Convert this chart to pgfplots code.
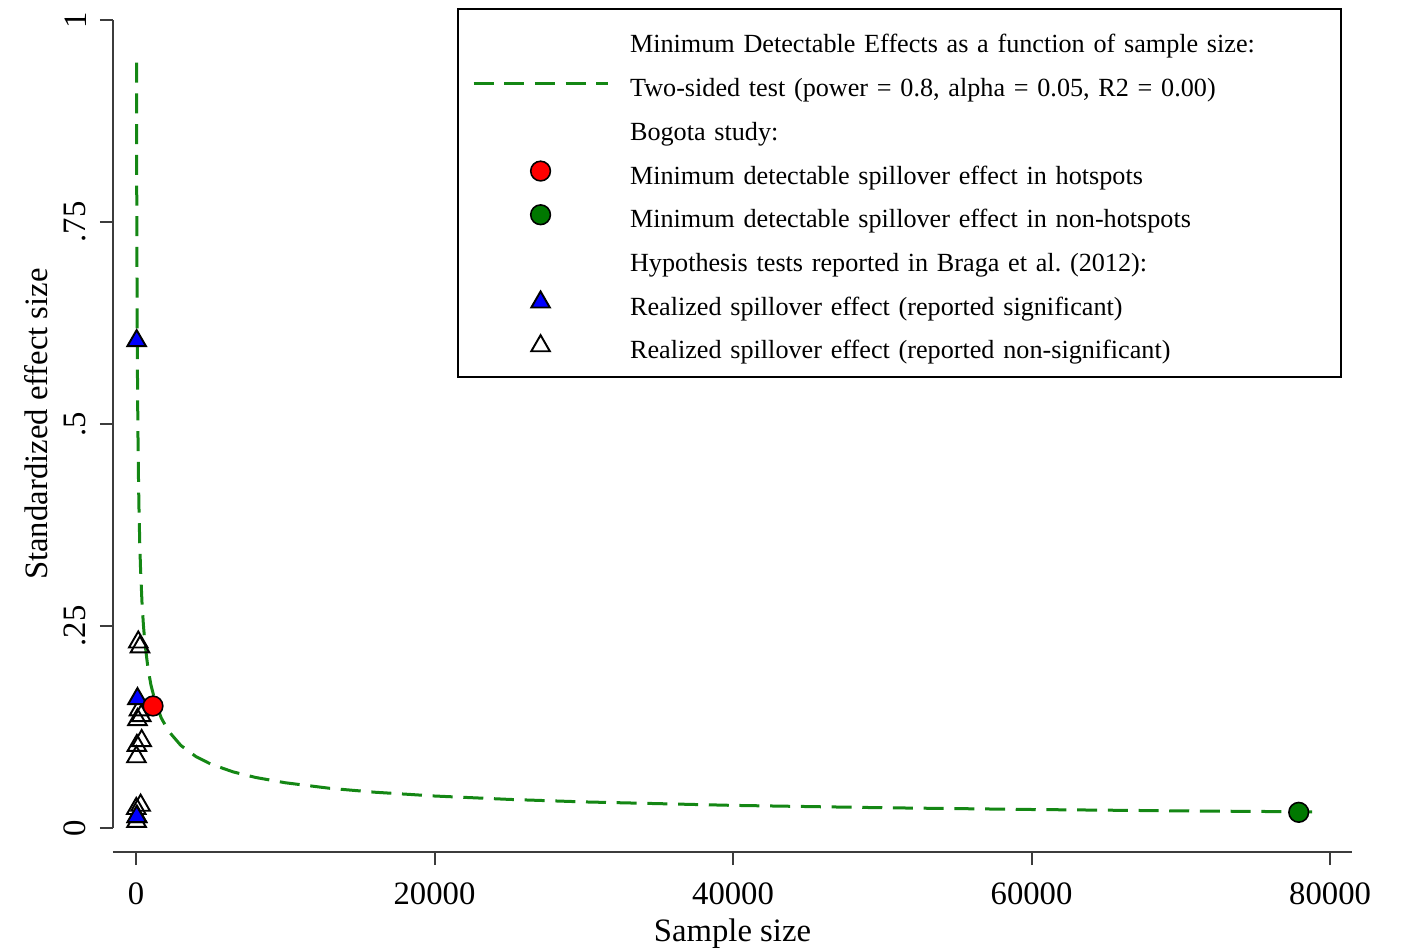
\documentclass[border=0pt]{standalone}
\usepackage{fontspec}
\setmainfont{Liberation Serif}
\usepackage{pgfplots}
\pgfplotsset{compat=1.18}
\definecolor{sgreen}{RGB}{20,135,20}
\definecolor{dgreen}{RGB}{0,120,0}
\definecolor{axgray}{RGB}{60,60,60}
\pgfplotsset{
  lineleg/.style={legend image code/.code={\draw[##1] (0cm,0cm) -- (1.34cm,0cm);}},
  markleg/.style={legend image code/.code={\draw[##1] plot coordinates {(0.67cm,0cm)};}},
}
\frenchspacing

\begin{document}
\begin{tikzpicture}
\path[use as bounding box] (-1.13cm,-1.19cm) rectangle (12.88cm,8.28cm);
\begin{axis}[
  at={(0,0)}, anchor=south west,
  scale only axis, width=12.39cm, height=8.08cm,
  xmin=-1540, xmax=81470, ymin=0, ymax=1,
  axis x line*=bottom, axis y line*=left,
  axis x line shift=2.4mm,
  clip=false,
  scaled x ticks=false, scaled y ticks=false,
  xtick={0,20000,40000,60000,80000},
  xticklabels={0,20000,40000,60000,80000},
  ytick={0,0.25,0.5,0.75,1},
  yticklabels={0,.25,.5,.75,1},
  tick align=outside,
  major tick length=1.3mm,
  tick style={line width=0.2mm, color=axgray},
  axis line style={line width=0.2mm, color=axgray},
  tick label style={font=\fontsize{9.3}{11}\selectfont},
  /pgf/number format/assume math mode=true,
  xticklabel style={yshift=-0.5mm},
  yticklabel style={rotate=90, anchor=south, inner ysep=1.3mm},
  label style={font=\fontsize{9.3}{11}\selectfont},
  xlabel={Sample size},
  ylabel={Standardized effect size},
  xlabel style={at={(axis description cs:0.5,-0.141)}, anchor=base},
  ylabel style={at={(axis description cs:-0.0525,0.5)}, anchor=base},
  legend cell align=left,
  legend style={
    at={(0.2777,1.0149)}, anchor=north west,
    draw=black, line width=0.2mm, fill=white,
    inner xsep=1.4mm, inner ysep=1.8mm,
    column sep=2.1mm, row sep=1.77mm,
    font=\fontsize{7.45}{9}\selectfont,
    nodes={inner sep=0pt, text width=6.97cm, align=left, text height=2.6mm, text depth=0mm, anchor=west},
    cells={anchor=west},
  },
]
\addlegendimage{empty legend}
\addlegendentry{Minimum Detectable Effects as a function of sample size:}
\addlegendimage{lineleg, sgreen, line width=0.3mm, dash pattern=on 2mm off 1.07mm}
\addlegendentry{Two-sided test (power = 0.8, alpha = 0.05, R2 = 0.00)}
\addlegendimage{empty legend}
\addlegendentry{Bogota study:}
\addlegendimage{markleg, only marks, mark=*, mark size=2.8pt, mark options={fill=red, draw=black, line width=0.45pt}}
\addlegendentry{Minimum detectable spillover effect in hotspots}
\addlegendimage{markleg, only marks, mark=*, mark size=2.8pt, mark options={fill=dgreen, draw=black, line width=0.45pt}}
\addlegendentry{Minimum detectable spillover effect in non-hotspots}
\addlegendimage{empty legend}
\addlegendentry{Hypothesis tests reported in Braga et al. (2012):}
\addlegendimage{markleg, only marks, mark=triangle*, mark size=3.05pt, mark options={fill=blue, draw=black, line width=0.55pt}}
\addlegendentry{Realized spillover effect (reported significant)}
\addlegendimage{markleg, only marks, mark=triangle, mark size=3.05pt, mark options={draw=black, line width=0.55pt}}
\addlegendentry{Realized spillover effect (reported non-significant)}

% MDE curve
\addplot[forget plot, sgreen, line width=0.3mm, dash pattern=on 2mm off 1.07mm] coordinates {
(35,0.9471) (37,0.9211) (40,0.8859) (45,0.8353) (50,0.7924) (55,0.7555)
(60,0.7234) (70,0.6697) (80,0.6264) (90,0.5906) (100,0.5603) (120,0.5115)
(140,0.4736) (170,0.4297) (200,0.3962) (250,0.3544) (300,0.3235) (400,0.2802)
(500,0.2506) (600,0.2287) (800,0.1981) (1000,0.1772) (1300,0.1554) (1700,0.1359)
(2200,0.1195) (3000,0.1023) (4000,0.0886) (5000,0.0792) (6500,0.0695) (8000,0.0626)
(10000,0.0560) (13000,0.0491) (16000,0.0443) (20000,0.0396) (25000,0.0354)
(30000,0.0323) (40000,0.0280) (50000,0.0251) (60000,0.0229) (70000,0.0212) (79500,0.0199)
};
% non-significant
\addplot[forget plot, only marks, mark=triangle, mark size=3.05pt, mark options={draw=black, line width=0.55pt}] coordinates {
(154,0.230) (268,0.224) (200,0.146) (350,0.139) (100,0.134)
(380,0.108) (60,0.102) (30,0.088) (310,0.028) (20,0.024) (80,0.014) (40,0.008)
};
% significant
\addplot[forget plot, only marks, mark=triangle*, mark size=3.05pt, mark options={fill=blue, draw=black, line width=0.55pt}] coordinates {
(45,0.603) (100,0.160) (50,0.014)
};
% Bogota
\addplot[forget plot, only marks, mark=*, mark size=2.8pt, mark options={fill=red, draw=black, line width=0.45pt}] coordinates {(1140,0.151)};
\addplot[forget plot, only marks, mark=*, mark size=2.8pt, mark options={fill=dgreen, draw=black, line width=0.45pt}] coordinates {(77900,0.0194)};
\end{axis}
\end{tikzpicture}
\end{document}
